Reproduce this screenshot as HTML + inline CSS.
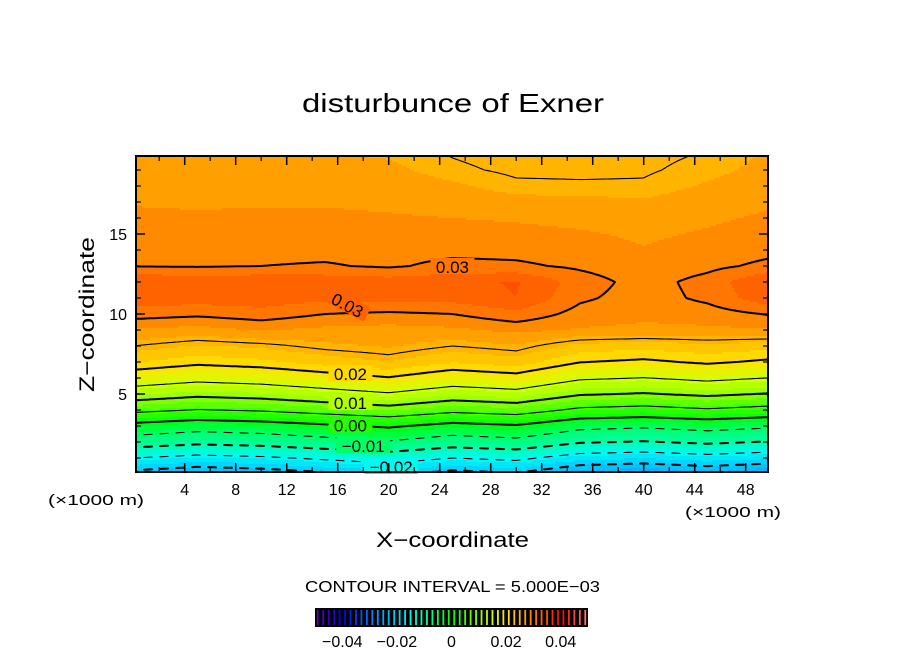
<!DOCTYPE html>
<html><head><meta charset="utf-8">
<style>
body{margin:0;background:#fff;}
svg{display:block;font-family:"Liberation Sans",sans-serif;}
</style></head>
<body>
<svg id="chart" width="904" height="654" viewBox="0 0 904 654" xmlns="http://www.w3.org/2000/svg">
  <text x="302" y="112" font-size="26" textLength="302" lengthAdjust="spacingAndGlyphs">disturbunce of Exner</text>
  <g id="fill"></g>
  <g id="lines"></g>
  <g id="labels"></g>
  <g id="axes"></g>
  <text x="48" y="505" font-size="15" textLength="96" lengthAdjust="spacingAndGlyphs">(×1000 m)</text>
  <text x="685" y="517" font-size="15" textLength="96" lengthAdjust="spacingAndGlyphs">(×1000 m)</text>
  <text x="376" y="547" font-size="21" textLength="153" lengthAdjust="spacingAndGlyphs">X−coordinate</text>
  <text transform="translate(94,392) rotate(-90)" font-size="21" textLength="155" lengthAdjust="spacingAndGlyphs">Z−coordinate</text>
  <text x="305" y="592" font-size="16" textLength="295" lengthAdjust="spacingAndGlyphs">CONTOUR INTERVAL = 5.000E−03</text>
  <g id="cbar"></g>
</svg>
<script>
// ---- data ----
const xCols = [0,5,10,15,20,25,30,35,40,45,50];
const zRows = [0,1,2,3,4,5,6,7,8,9,10,11,12,13,14,15,16,17,18,19,20];
const col0  = [-0.0215,-0.015,-0.0075,-0.0015,0.0062,0.0125,0.0177,0.0222,0.0250,0.0278,0.0310,0.0333,0.0338,0.0299,0.0295,0.0290,0.0285,0.0278,0.0272,0.0266,0.0262];
const col5  = [-0.0229,-0.0164,-0.0089,-0.0029,0.0048,0.0111,0.0163,0.0208,0.0238,0.0272,0.0305,0.0330,0.0335,0.0298,0.0293,0.0288,0.0283,0.0277,0.0271,0.0266,0.0262];
const col10 = [-0.0222,-0.0157,-0.0082,-0.0022,0.0055,0.0118,0.0170,0.0215,0.0244,0.0282,0.0312,0.0332,0.0336,0.0300,0.0294,0.0289,0.0284,0.0278,0.0272,0.0267,0.0262];
const col15 = [-0.0208,-0.0143,-0.0068,-0.0008,0.0069,0.0132,0.0184,0.0229,0.0256,0.0275,0.0300,0.0325,0.0334,0.0302,0.0294,0.0289,0.0284,0.0278,0.0272,0.0266,0.0261];
const col20 = [-0.0194,-0.0129,-0.0054,0.0006,0.0083,0.0146,0.0198,0.0240,0.0262,0.0272,0.0296,0.0328,0.0330,0.0297,0.0292,0.0287,0.0282,0.0276,0.0270,0.0264,0.0258];
const col25 = [-0.0215,-0.015,-0.0075,-0.0015,0.0062,0.0125,0.0177,0.0222,0.0250,0.0276,0.0300,0.0328,0.0335,0.0306,0.0294,0.0287,0.0280,0.0272,0.0263,0.0253,0.0249];
const col30 = [-0.0205,-0.0140,-0.0065,-0.0005,0.0072,0.0135,0.0187,0.0232,0.0258,0.0285,0.0315,0.0340,0.0342,0.0304,0.0293,0.0285,0.0278,0.0266,0.0253,0.0247,0.0244];
const col35 = [-0.0236,-0.0171,-0.0096,-0.0036,0.0041,0.0104,0.0156,0.0201,0.0233,0.0278,0.0292,0.0304,0.0311,0.0296,0.0288,0.0282,0.0275,0.0265,0.0252,0.0247,0.0244];
const col40 = [-0.0243,-0.0178,-0.0103,-0.0043,0.0034,0.0097,0.0149,0.0194,0.0228,0.0275,0.0285,0.0290,0.0291,0.0286,0.0281,0.0277,0.0271,0.0262,0.0252,0.0248,0.0246];
const col45 = [-0.0232,-0.0167,-0.0092,-0.0032,0.0045,0.0108,0.0160,0.0205,0.0235,0.0276,0.0290,0.0305,0.0308,0.0294,0.0287,0.0282,0.0277,0.0270,0.0262,0.0255,0.0251];
const col50 = [-0.0243,-0.0178,-0.0103,-0.0043,0.0034,0.0097,0.0149,0.0194,0.0228,0.0278,0.0302,0.0335,0.0342,0.0306,0.0294,0.0288,0.0283,0.0278,0.0272,0.0266,0.0262];
const contourLevels = [-0.02,-0.015,-0.01,-0.005,0,0.005,0.01,0.015,0.02,0.025,0.03];
const xTicks = [4,8,12,16,20,24,28,32,36,40,44,48];
const yTicks = [5,10,15];
const cbarTickVals = [-0.04,-0.02,0,0.02,0.04];
const cbarTickText = ["−0.04","−0.02","0","0.02","0.04"];
const contourLabelText = ["0.03","0.03","0.02","0.01","0.00","−0.01","−0.02"];
const contourLabelX = [25.0,16.8,17.0,17.0,17.0,18.0,20.2];
const contourLabelZ = [13.0,10.6,6.3,4.5,3.1,1.8,0.5];
const contourLabelRot = [0,28,0,0,0,0,0];

const grid = [col0,col5,col10,col15,col20,col25,col30,col35,col40,col45,col50];
// ---- scales ----
const X0=133.7, XS=12.75, Y0=474, YS=16;
const L=136, R=768, T=156, B=472;
const sx = x => X0 + XS*x;
const sy = z => Y0 - YS*z;
const ix = px => (px - X0)/XS;
const iz = py => (Y0 - py)/YS;
const NS='http://www.w3.org/2000/svg';
function field(x,z){
  let cx=(x-xCols[0])/(xCols[1]-xCols[0]); cx=Math.max(0,Math.min(xCols.length-1.0001,cx));
  let cz=(z-zRows[0])/(zRows[1]-zRows[0]); cz=Math.max(0,Math.min(zRows.length-1.0001,cz));
  const i=Math.floor(cx), j=Math.floor(cz), fx=cx-i, fz=cz-j;
  const a=grid[i][j], b=grid[i+1][j], c=grid[i][j+1], d=grid[i+1][j+1];
  return (a*(1-fx)+b*fx)*(1-fz)+(c*(1-fx)+d*fx)*fz;
}
const stops=[[-0.05,[110,0,180]],[-0.04,[0,0,230]],[-0.03,[0,120,255]],[-0.025,[0,170,255]],[-0.02,[0,205,255]],[-0.015,[0,250,240]],[-0.01,[0,255,170]],[-0.005,[0,255,100]],[0,[0,255,0]],[0.005,[64,255,0]],[0.01,[144,255,0]],[0.015,[208,255,0]],[0.02,[255,226,0]],[0.025,[255,180,0]],[0.03,[255,128,0]],[0.035,[255,80,0]],[0.04,[255,0,0]],[0.05,[255,130,130]]];
function cmap(v){
  if(v<=stops[0][0]) return 'rgb('+stops[0][1]+')';
  for(let k=0;k<stops.length-1;k++){
    if(v<=stops[k+1][0]){
      const t=(v-stops[k][0])/(stops[k+1][0]-stops[k][0]);
      const c=stops[k][1].map((q,m)=>Math.round(q+(stops[k+1][1][m]-q)*t));
      return 'rgb('+c.join(',')+')';
    }
  }
  return 'rgb('+stops[stops.length-1][1]+')';
}
const STEP=0.002;
function bandColor(v){ const k=Math.floor((v+0.05)/STEP); return cmap(-0.05+(k+0.5)*STEP); }
// ---- fill ----
const fillG=document.getElementById('fill');
const C=2;
for(let py=T;py<B;py+=C){
  let runStart=L, runCol=null;
  for(let px=L;px<=R;px+=C){
    const col = px<R ? bandColor(field(ix(px+C/2),iz(py+C/2))) : null;
    if(col!==runCol){
      if(runCol!==null){
        const r=document.createElementNS(NS,'rect');
        r.setAttribute('x',runStart);r.setAttribute('y',py);
        r.setAttribute('width',Math.min(px,R)-runStart+0.5);r.setAttribute('height',C+0.5);
        r.setAttribute('fill',runCol);
        
        
        fillG.appendChild(r);
      }
      runStart=px; runCol=col;
    }
  }
}
// ---- contour lines (marching squares) ----
const lineG=document.getElementById('lines');
const G=2;
const nxp=Math.floor((R-L)/G), nyp=Math.floor((B-T)/G);
const vals=[];
for(let j=0;j<=nyp;j++){const row=[];for(let i=0;i<=nxp;i++)row.push(field(ix(L+i*G),iz(T+j*G)));vals.push(row);}
contourLevels.forEach(lv=>{
  let d='';
  for(let j=0;j<nyp;j++)for(let i=0;i<nxp;i++){
    const x0=L+i*G,y0=T+j*G;
    const v=[vals[j][i],vals[j][i+1],vals[j+1][i+1],vals[j+1][i]];
    const p=[[x0,y0],[x0+G,y0],[x0+G,y0+G],[x0,y0+G]];
    const pts=[];
    for(let e=0;e<4;e++){
      const a=v[e],b=v[(e+1)%4];
      if((a<lv)!==(b<lv)){
        const t=(lv-a)/(b-a);
        pts.push([p[e][0]+(p[(e+1)%4][0]-p[e][0])*t,p[e][1]+(p[(e+1)%4][1]-p[e][1])*t]);
      }
    }
    if(lv<0 && Math.floor(x0/8)%2===1) continue;
    for(let k=0;k+1<pts.length;k+=2) d+='M'+pts[k][0].toFixed(1)+' '+pts[k][1].toFixed(1)+'L'+pts[k+1][0].toFixed(1)+' '+pts[k+1][1].toFixed(1);
  }
  const path=document.createElementNS(NS,'path');
  path.setAttribute('d',d);
  path.setAttribute('fill','none');path.setAttribute('stroke','#000');
  const major=Math.abs(Math.round(lv*1000)%10)===0;
  path.setAttribute('stroke-width',major?2:1.1);
  path.setAttribute('stroke-linecap','round');
  
  
  lineG.appendChild(path);
});
// ---- contour labels ----
const labG=document.getElementById('labels');
contourLabelText.forEach((t,k)=>{
  const cx=sx(contourLabelX[k]), cy=sy(contourLabelZ[k]);
  const g=document.createElementNS(NS,'g');
  g.setAttribute('transform','translate('+cx+','+cy+') rotate('+contourLabelRot[k]+')');
  
  
  const w=t.length*10+4;
  const r=document.createElementNS(NS,'rect');
  r.setAttribute('x',-w/2);r.setAttribute('y',-8);r.setAttribute('width',w);r.setAttribute('height',16);
  r.setAttribute('fill',bandColor(field(contourLabelX[k],contourLabelZ[k]+0.3)));
  g.appendChild(r);
  const tx=document.createElementNS(NS,'text');
  tx.setAttribute('x',0);tx.setAttribute('y',7);tx.setAttribute('font-size','17');tx.setAttribute('text-anchor','middle');
  tx.textContent=t;g.appendChild(tx);
  labG.appendChild(g);
});
// ---- axes ----
const axG=document.getElementById('axes');
function line(x1,y1,x2,y2,w,name){
  const l=document.createElementNS(NS,'line');
  l.setAttribute('x1',x1);l.setAttribute('y1',y1);l.setAttribute('x2',x2);l.setAttribute('y2',y2);
  l.setAttribute('stroke','#000');l.setAttribute('stroke-width',w);
  
  
  axG.appendChild(l);
}
function text(x,y,s,anchor,name,size){
  const t=document.createElementNS(NS,'text');
  t.setAttribute('x',x);t.setAttribute('y',y);t.setAttribute('font-size',size||16);t.setAttribute('text-anchor',anchor);
  t.textContent=s;
  
  
  axG.appendChild(t);
}
xTicks.forEach(v=>{
  const px=sx(v);
  line(px,B,px,B-9,1.5,'x-tick');line(px,T,px,T+9,1.5,'x-tick');
  const m=sx(v-2);
  line(m,B,m,B-5,1.2,'x-minor-tick');line(m,T,m,T+5,1.2,'x-minor-tick');
  text(px,495,String(v),'middle','x-tick-label');
});
for(let z=1;z<20;z++){
  const py=sy(z);
  const major=yTicks.indexOf(z)>=0;
  const len=major?9:5;
  line(L,py,L+len,py,major?1.5:1.2,'y-tick');line(R,py,R-len,py,major?1.5:1.2,'y-tick');
}
yTicks.forEach(v=>text(127,sy(v)+6,String(v),'end','y-tick-label'));
const frame=document.createElementNS(NS,'rect');
frame.setAttribute('x',L);frame.setAttribute('y',T);frame.setAttribute('width',R-L);frame.setAttribute('height',B-T);
frame.setAttribute('fill','none');frame.setAttribute('stroke','#000');frame.setAttribute('stroke-width',2);


axG.appendChild(frame);
// ---- colorbar ----
const cb=document.getElementById('cbar');
const CBL=315, CBR=588, CBT=608, CBB=627;
const cbx=v=>CBL+(v+0.05)/0.1*(CBR-CBL);
const bg=document.createElementNS(NS,'rect');
bg.setAttribute('x',CBL);bg.setAttribute('y',CBT);bg.setAttribute('width',CBR-CBL);bg.setAttribute('height',CBB-CBT);bg.setAttribute('fill','#000');


cb.appendChild(bg);
for(let k=0;k<50;k++){
  const v=-0.05+(k+0.5)*STEP;
  const r=document.createElementNS(NS,'rect');
  r.setAttribute('x',cbx(v)-0.9);r.setAttribute('y',CBT+2);r.setAttribute('width',1.8);r.setAttribute('height',CBB-CBT-4);
  r.setAttribute('fill',cmap(v));
  
  
  cb.appendChild(r);
}
cbarTickVals.forEach((v,k)=>{
  const t=document.createElementNS(NS,'text');
  t.setAttribute('x',cbx(v));t.setAttribute('y',647);t.setAttribute('font-size','16');t.setAttribute('text-anchor','middle');
  t.textContent=cbarTickText[k];
  
  
  cb.appendChild(t);
});
</script>
</body></html>
